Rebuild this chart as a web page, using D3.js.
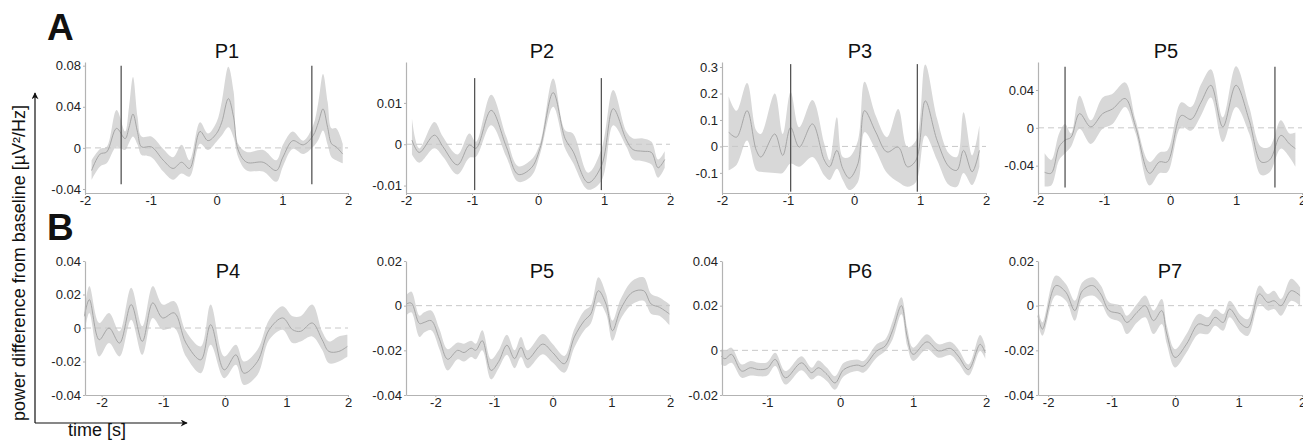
<!DOCTYPE html>
<html>
<head>
<meta charset="utf-8">
<script src="https://cdn.jsdelivr.net/npm/d3@7"></script>
<style>
  body { margin: 0; background: #fff; }
  svg { display: block; font-family: "Liberation Sans", Arial, sans-serif; }
</style>
</head>
<body>
<svg id="chart" width="1303" height="447"></svg>
<script>
// ---- DATA ----
const titles = ["P1", "P2", "P3", "P5", "P4", "P5", "P6", "P7"];

const xLimits = [[-2, 2], [-2, 2], [-2, 2], [-2, 2], [-2.27, 2], [-2.5, 2], [-1.62, 2], [-2.16, 2]];
const yLimits = [[-0.0439, 0.0836], [-0.0118, 0.0199], [-0.176, 0.319], [-0.0689, 0.0696],
                 [-0.04, 0.04], [-0.04, 0.02], [-0.02, 0.04], [-0.04, 0.02]];

const xTicks = [[-2, -1, 0, 1, 2], [-2, -1, 0, 1, 2], [-2, -1, 0, 1, 2], [-2, -1, 0, 1, 2],
                [-2, -1, 0, 1, 2], [-2, -1, 0, 1, 2], [-1, 0, 1, 2], [-2, -1, 0, 1, 2]];
const yTicks = [[-0.04, 0, 0.04, 0.08], [-0.01, 0, 0.01], [-0.1, 0, 0.1, 0.2, 0.3], [-0.04, 0, 0.04],
                [-0.04, -0.02, 0, 0.02, 0.04], [-0.04, -0.02, 0, 0.02], [-0.02, 0, 0.02, 0.04], [-0.04, -0.02, 0, 0.02]];

// vertical markers (time) and their vertical extent, row A only
const markerTimes = [[-1.45, 1.45], [-0.96, 0.96], [-0.96, 0.96], [-1.59, 1.59], [], [], [], []];
const markerSpan = [[-0.0354, 0.08], [-0.0111, 0.016], [-0.171, 0.311], [-0.0632, 0.0645], null, null, null, null];

const p1T    = [-1.9, -1.77, -1.67, -1.52, -1.39, -1.33, -1.27, -1.2, -1.14, -0.99, -0.81, -0.66, -0.53, -0.41, -0.25, -0.13, 0.0, 0.08, 0.18, 0.26, 0.33, 0.46, 0.71, 0.91, 1.01, 1.16, 1.32, 1.47, 1.55, 1.62, 1.69, 1.75, 1.82, 1.92];
const p1Mean = [-0.022, -0.006, -0.004, 0.019, 0.009, 0.02, 0.033, 0.015, 0.001, 0.001, -0.012, -0.02, -0.014, -0.02, 0.016, 0.007, 0.014, 0.025, 0.048, 0.03, -0.002, -0.014, -0.014, -0.022, -0.009, 0.007, 0.003, 0.012, 0.025, 0.038, 0.02, 0.004, 0.001, -0.006];
const p1Hi   = [-0.012, -0.001, 0.001, 0.037, 0.016, 0.04, 0.069, 0.03, 0.011, 0.011, -0.001, -0.009, 0.003, -0.012, 0.025, 0.014, 0.025, 0.045, 0.079, 0.055, 0.004, -0.004, -0.002, -0.012, 0.003, 0.016, 0.007, 0.022, 0.045, 0.072, 0.045, 0.019, 0.019, 0.004];
const p1Lo   = [-0.031, -0.018, -0.015, 0.001, -0.002, 0.005, 0.011, 0.003, -0.007, -0.009, -0.023, -0.031, -0.025, -0.028, 0.004, -0.002, 0.006, 0.012, 0.02, 0.01, -0.009, -0.022, -0.023, -0.033, -0.018, -0.001, -0.006, 0.001, 0.008, 0.017, 0.003, -0.009, -0.012, -0.015];

const p2T    = [-1.91, -1.8, -1.57, -1.44, -1.22, -1.04, -0.94, -0.71, -0.48, -0.3, -0.1, 0.03, 0.23, 0.41, 0.53, 0.76, 0.96, 1.14, 1.34, 1.44, 1.59, 1.72, 1.82, 1.92];
const p2Mean = [0.001, -0.002, 0.0022, -0.0006, -0.005, -0.0002, -0.001, 0.0082, -0.0006, -0.0073, -0.0057, -0.001, 0.0125, 0.0014, -0.0017, -0.0093, -0.0053, 0.0086, 0.001, -0.0013, -0.0017, -0.002, -0.0057, -0.0037];
const p2Hi   = [0.0062, -0.001, 0.0054, 0.0018, -0.0025, 0.0026, 0.0006, 0.012, 0.0018, -0.0053, -0.0037, 0.0002, 0.0159, 0.0034, 0.0026, -0.0069, -0.0013, 0.0131, 0.003, 0.0014, 0.0014, 0.0006, -0.0037, -0.0017];
const p2Lo   = [-0.0025, -0.0045, -0.001, -0.003, -0.0073, -0.0033, -0.003, 0.0046, -0.003, -0.0091, -0.0077, -0.0025, 0.0091, -0.001, -0.0045, -0.011, -0.0089, 0.0046, -0.0006, -0.0037, -0.0041, -0.0049, -0.0081, -0.0057];

const p3T    = [-1.9, -1.78, -1.62, -1.48, -1.41, -1.2, -1.08, -0.96, -0.83, -0.63, -0.45, -0.37, -0.26, -0.17, -0.07, 0.06, 0.16, 0.33, 0.5, 0.67, 0.81, 0.94, 1.08, 1.26, 1.44, 1.56, 1.66, 1.79, 1.9];
const p3Mean = [0.054, 0.035, 0.135, -0.015, -0.04, 0.047, -0.034, 0.072, -0.0025, 0.085, -0.052, -0.077, -0.015, -0.084, -0.12, -0.065, 0.135, 0.054, -0.021, -0.0025, -0.077, -0.052, 0.172, 0.022, -0.077, -0.09, -0.015, -0.096, -0.015];
const p3Hi   = [0.19, 0.135, 0.24, 0.06, 0.047, 0.2, 0.047, 0.206, 0.072, 0.175, 0.01, -0.052, 0.11, -0.04, -0.04, 0.022, 0.244, 0.116, 0.035, 0.141, -0.0025, 0.022, 0.31, 0.104, -0.027, -0.04, 0.129, -0.034, 0.079];
const p3Lo   = [-0.09, -0.07, 0.022, -0.09, -0.096, -0.1, -0.1, -0.065, -0.077, -0.04, -0.11, -0.127, -0.084, -0.127, -0.165, -0.134, 0.054, -0.015, -0.1, -0.134, -0.152, -0.134, 0.041, -0.052, -0.146, -0.152, -0.1, -0.146, -0.077];

const p5aT    = [-1.9, -1.8, -1.68, -1.59, -1.5, -1.37, -1.2, -1.02, -0.87, -0.68, -0.52, -0.31, -0.16, -0.04, 0.17, 0.32, 0.47, 0.62, 0.8, 1.0, 1.2, 1.38, 1.51, 1.68, 1.81, 1.9];
const p5aMean = [-0.047, -0.048, -0.02, -0.013, -0.01, 0.015, 0.001, 0.015, 0.02, 0.031, 0.001, -0.048, -0.036, -0.036, 0.013, 0.009, 0.027, 0.045, 0.001, 0.045, 0.008, -0.036, -0.034, -0.008, -0.017, -0.022];
const p5aHi   = [-0.027, -0.034, -0.006, 0.004, -0.006, 0.034, 0.008, 0.032, 0.036, 0.048, 0.008, -0.036, -0.026, -0.024, 0.027, 0.022, 0.046, 0.062, 0.011, 0.065, 0.022, -0.02, -0.02, 0.008, -0.006, -0.005];
const p5aLo   = [-0.062, -0.061, -0.034, -0.027, -0.02, -0.001, -0.017, -0.001, 0.004, 0.022, -0.006, -0.061, -0.048, -0.047, 0.001, -0.003, 0.013, 0.032, -0.015, 0.022, -0.006, -0.05, -0.047, -0.022, -0.031, -0.041];

const p4T    = [-2.28, -2.2, -2.04, -1.88, -1.71, -1.52, -1.34, -1.17, -1.01, -0.82, -0.63, -0.39, -0.23, -0.01, 0.18, 0.31, 0.53, 0.72, 0.94, 1.1, 1.23, 1.42, 1.58, 1.69, 1.85, 1.99];
const p4Mean = [0.007, 0.017, -0.007, 0.0, -0.009, 0.014, -0.008, 0.015, 0.006, 0.009, -0.009, -0.019, 0.002, -0.025, -0.016, -0.027, -0.02, -0.001, 0.006, -0.001, -0.002, 0.003, -0.007, -0.014, -0.014, -0.011];
const p4Hi   = [0.01, 0.025, 0.003, 0.009, -0.002, 0.024, 0.001, 0.025, 0.014, 0.016, -0.002, -0.011, 0.014, -0.017, -0.01, -0.02, -0.013, 0.005, 0.013, 0.007, 0.007, 0.014, -0.002, -0.008, -0.005, -0.004];
const p4Lo   = [-0.003, 0.009, -0.017, -0.009, -0.017, 0.005, -0.016, 0.006, -0.001, 0.0, -0.017, -0.027, -0.01, -0.03, -0.022, -0.034, -0.028, -0.007, -0.001, -0.009, -0.008, -0.005, -0.013, -0.021, -0.02, -0.017];

const p5bT    = [-2.5, -2.41, -2.27, -2.19, -2.07, -1.93, -1.79, -1.62, -1.51, -1.39, -1.31, -1.2, -1.05, -0.92, -0.78, -0.65, -0.54, -0.43, -0.17, 0.0, 0.2, 0.37, 0.54, 0.65, 0.78, 0.91, 1.02, 1.16, 1.36, 1.55, 1.68, 1.82, 1.99];
const p5bMean = [0.0007, 0.0012, -0.008, -0.0075, -0.0067, -0.015, -0.024, -0.02, -0.021, -0.019, -0.02, -0.0157, -0.029, -0.025, -0.0177, -0.0237, -0.0187, -0.024, -0.0172, -0.021, -0.026, -0.014, -0.0067, -0.0037, 0.0067, 0.0007, -0.0112, -0.0015, 0.006, 0.0067, 0.0007, -0.0007, -0.0037];
const p5bHi   = [0.0045, 0.0063, -0.0045, -0.003, -0.0022, -0.0105, -0.0195, -0.0165, -0.017, -0.0157, -0.017, -0.011, -0.024, -0.02, -0.013, -0.02, -0.014, -0.02, -0.0127, -0.0172, -0.0225, -0.0105, -0.0022, 0.0, 0.0127, 0.0052, -0.0067, 0.003, 0.0112, 0.0127, 0.0052, 0.0037, 0.0007];
const p5bLo   = [-0.0045, -0.003, -0.014, -0.012, -0.011, -0.0195, -0.029, -0.024, -0.025, -0.023, -0.024, -0.02, -0.033, -0.028, -0.022, -0.028, -0.023, -0.028, -0.0217, -0.0255, -0.03, -0.0187, -0.011, -0.008, 0.0015, -0.0037, -0.0157, -0.006, 0.0007, 0.0022, -0.0037, -0.0045, -0.0087];

const p6T    = [-1.63, -1.58, -1.49, -1.35, -1.23, -1.12, -1.0, -0.89, -0.75, -0.53, -0.39, -0.3, -0.18, -0.07, 0.05, 0.23, 0.32, 0.5, 0.62, 0.72, 0.84, 0.92, 1.0, 1.19, 1.35, 1.51, 1.62, 1.76, 1.92, 1.99];
const p6Mean = [-0.0026, -0.0038, -0.0018, -0.0093, -0.0078, -0.0086, -0.0081, -0.0041, -0.0123, -0.0056, -0.01, -0.0078, -0.0108, -0.0146, -0.0086, -0.0066, -0.0071, -0.0003, 0.002, 0.009, 0.02, 0.006, -0.0018, 0.0038, -0.0003, 0.0009, -0.0026, -0.0086, 0.0027, -0.0011];
const p6Hi   = [0.0005, -0.0003, 0.0012, -0.0063, -0.0048, -0.0056, -0.0053, -0.0011, -0.0093, -0.0026, -0.0078, -0.0045, -0.0078, -0.0116, -0.0056, -0.0041, -0.0048, 0.0027, 0.005, 0.013, 0.0238, 0.01, 0.0012, 0.0072, 0.0027, 0.0038, 0.0005, -0.0063, 0.0069, 0.002];
const p6Lo   = [-0.0063, -0.007, -0.0056, -0.0123, -0.0113, -0.0116, -0.0113, -0.007, -0.0153, -0.0089, -0.0131, -0.0113, -0.0138, -0.0176, -0.0116, -0.0093, -0.01, -0.0033, -0.0003, 0.005, 0.0162, 0.002, -0.0048, 0.0005, -0.0033, -0.0021, -0.0056, -0.0113, -0.0003, -0.0038];

const p7T    = [-2.16, -2.09, -1.88, -1.72, -1.58, -1.46, -1.3, -1.17, -1.04, -0.86, -0.76, -0.6, -0.47, -0.34, -0.21, -0.13, 0.0, 0.18, 0.37, 0.52, 0.63, 0.76, 0.86, 1.04, 1.15, 1.33, 1.46, 1.56, 1.67, 1.83, 1.97];
const p7Mean = [-0.0045, -0.0105, 0.009, 0.006, -0.0022, 0.0067, 0.009, 0.0052, -0.0022, -0.0037, -0.0075, -0.003, 0.0, -0.0067, -0.0022, -0.0127, -0.0232, -0.0172, -0.0082, -0.009, -0.0052, -0.0075, -0.0015, -0.0082, -0.0097, 0.0052, 0.0015, 0.0022, 0.0, 0.0067, 0.0045];
const p7Hi   = [-0.0015, -0.0075, 0.0135, 0.0097, 0.0022, 0.0105, 0.0127, 0.009, 0.0015, 0.0, -0.0045, 0.0007, 0.0045, -0.0022, 0.003, -0.009, -0.0195, -0.0127, -0.0037, -0.0052, -0.0015, -0.0037, 0.0022, -0.0045, -0.006, 0.009, 0.0052, 0.0067, 0.003, 0.012, 0.0082];
const p7Lo   = [-0.0075, -0.0135, 0.0045, 0.0022, -0.0067, 0.003, 0.0045, 0.0015, -0.0052, -0.0075, -0.0127, -0.0075, -0.0052, -0.0127, -0.0082, -0.0172, -0.0277, -0.021, -0.0127, -0.0127, -0.009, -0.0112, -0.0052, -0.012, -0.0135, 0.0007, -0.0022, -0.0015, -0.0045, 0.0022, 0.0];

const series = [
  [p1T, p1Mean, p1Lo, p1Hi], [p2T, p2Mean, p2Lo, p2Hi], [p3T, p3Mean, p3Lo, p3Hi], [p5aT, p5aMean, p5aLo, p5aHi],
  [p4T, p4Mean, p4Lo, p4Hi], [p5bT, p5bMean, p5bLo, p5bHi], [p6T, p6Mean, p6Lo, p6Hi], [p7T, p7Mean, p7Lo, p7Hi]
];

// ---- LAYOUT ----
const colX = [[85, 348], [406, 670], [722, 986], [1038, 1302]];
const rowY = [[193, 62], [395, 261]];
const titleX = [227, 542, 860, 1166, 228, 542, 860, 1170];
const titleY = [58, 278];

const svg = d3.select("#chart");
svg.append("rect").attr("width", 1303).attr("height", 447).attr("fill", "#fff");

const axisColor = "#b3b3b3", textColor = "#222";

series.forEach((s, i) => {
  const row = Math.floor(i / 4), col = i % 4;
  const x = d3.scaleLinear().domain(xLimits[i]).range(colX[col]);
  const y = d3.scaleLinear().domain(yLimits[i]).range(rowY[row]);
  const pts = s[0].map((t, k) => ({ t: t, m: s[1][k], lo: s[2][k], hi: s[3][k] }));

  const g = svg.append("g");

  const area = d3.area()
    .x(d => x(d.t)).y0(d => y(d.lo)).y1(d => y(d.hi))
    .curve(d3.curveCatmullRom.alpha(0.5));
  const line = d3.line()
    .x(d => x(d.t)).y(d => y(d.m))
    .curve(d3.curveCatmullRom.alpha(0.5));

  g.append("path").datum(pts).attr("d", area).attr("fill", "#d8d8d8");

  // zero line
  g.append("line")
    .attr("x1", colX[col][0]).attr("x2", colX[col][1])
    .attr("y1", y(0)).attr("y2", y(0))
    .attr("stroke", "#c8c8c8").attr("stroke-width", 1)
    .attr("stroke-dasharray", "6,4");

  g.append("path").datum(pts).attr("d", line)
    .attr("fill", "none").attr("stroke", "#a0a0a0").attr("stroke-width", 0.9);

  // markers
  markerTimes[i].forEach(mt => {
    g.append("line")
      .attr("x1", x(mt)).attr("x2", x(mt))
      .attr("y1", y(markerSpan[i][0])).attr("y2", y(markerSpan[i][1]))
      .attr("stroke", "#555").attr("stroke-width", 1.3);
  });

  // axes
  const fmt = v => String(v);
  const yAxis = g.append("g")
    .attr("transform", `translate(${colX[col][0]},0)`)
    .call(d3.axisLeft(y).tickValues(yTicks[i]).tickFormat(fmt).tickSizeInner(2).tickSizeOuter(0).tickPadding(2));
  const xAxis = g.append("g")
    .attr("transform", `translate(0,${rowY[row][0]})`)
    .call(d3.axisBottom(x).tickValues(xTicks[i]).tickFormat(fmt).tickSizeInner(2).tickSizeOuter(0).tickPadding(1));

  [yAxis, xAxis].forEach(a => {
    a.select(".domain").attr("stroke", axisColor).attr("stroke-width", 1.2);
    a.selectAll(".tick line").attr("stroke", axisColor);
    a.selectAll(".tick text").attr("fill", textColor)
      .style("font-size", "13px").style("font-family", "'Liberation Sans', Arial, sans-serif");
  });

  svg.append("text")
    .attr("x", titleX[i]).attr("y", titleY[row])
    .attr("text-anchor", "middle")
    .style("font-size", "20px").attr("fill", "#111")
    .text(titles[i]);
});

// panel letters
svg.append("text").attr("x", 47).attr("y", 40)
  .style("font-size", "37px").style("font-weight", "bold").attr("fill", "#111").text("A");
svg.append("text").attr("x", 47).attr("y", 240)
  .style("font-size", "37px").style("font-weight", "bold").attr("fill", "#111").text("B");

// shared axis arrows
const defs = svg.append("defs");
defs.append("marker")
  .attr("id", "arrow").attr("viewBox", "0 0 10 10")
  .attr("refX", 9).attr("refY", 5)
  .attr("markerWidth", 10).attr("markerHeight", 7)
  .attr("markerUnits", "userSpaceOnUse")
  .attr("orient", "auto")
  .append("path").attr("d", "M0,0 L10,5 L0,10 L3,5 Z").attr("fill", "#111");

svg.append("line")
  .attr("x1", 35).attr("y1", 423).attr("x2", 35).attr("y2", 93)
  .attr("stroke", "#111").attr("stroke-width", 1.2).attr("marker-end", "url(#arrow)");
svg.append("line")
  .attr("x1", 35).attr("y1", 423).attr("x2", 187).attr("y2", 423)
  .attr("stroke", "#111").attr("stroke-width", 1.2).attr("marker-end", "url(#arrow)");

svg.append("text")
  .attr("transform", "translate(25,263) rotate(-90)")
  .attr("text-anchor", "middle")
  .style("font-size", "18px").attr("fill", "#111")
  .text("power difference from baseline [µV²/Hz]");

svg.append("text")
  .attr("x", 68).attr("y", 436)
  .style("font-size", "18px").attr("fill", "#111")
  .text("time [s]");
</script>
</body>
</html>
